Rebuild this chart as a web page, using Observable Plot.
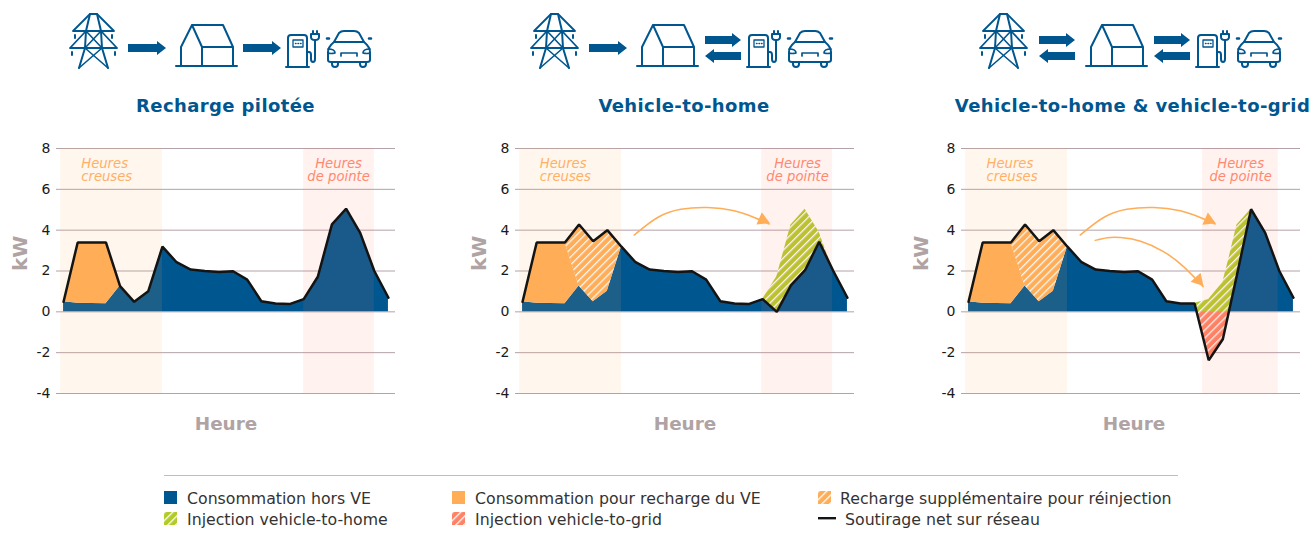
<!DOCTYPE html>
<html lang="fr">
<head>
<meta charset="utf-8">
<title>Recharge pilotée, vehicle-to-home, vehicle-to-grid</title>
<script src="https://cdn.jsdelivr.net/npm/d3@7"></script>
<script src="https://cdn.jsdelivr.net/npm/@observablehq/plot@0.6"></script>
<style>
html,body{margin:0;padding:0;background:#fff;}
#page{position:relative;width:1314px;height:533px;overflow:hidden;font-family:"DejaVu Sans",sans-serif;}
.panel{position:absolute;top:130px;}
.panel svg{display:block;}
.title{position:absolute;top:95px;font-weight:700;font-size:18px;letter-spacing:0.4px;line-height:22px;color:#00568f;white-space:nowrap;transform:translateX(-50%);}
#rule{position:absolute;left:164px;top:475px;width:1014px;height:1px;background:#c8b8bf;}
.lg{position:absolute;font-size:15.75px;line-height:20px;color:#333;white-space:nowrap;}
.sw{position:absolute;}
#icons{position:absolute;left:0;top:0;}
</style>
</head>
<body>
<div id="page">
<svg width="0" height="0" style="position:absolute">
  <defs>
    <pattern id="hatchOrange" patternUnits="userSpaceOnUse" width="5.6" height="5.6" patternTransform="rotate(45)">
      <rect width="5.6" height="5.6" fill="#ffad57"/><rect width="1.3" height="5.6" fill="#fff"/>
    </pattern>
    <pattern id="hatchGreen" patternUnits="userSpaceOnUse" width="5.6" height="5.6" patternTransform="rotate(45)">
      <rect width="5.6" height="5.6" fill="#b3cb2a"/><rect width="1.3" height="5.6" fill="#fff"/>
    </pattern>
    <pattern id="hatchRed" patternUnits="userSpaceOnUse" width="5.6" height="5.6" patternTransform="rotate(45)">
      <rect width="5.6" height="5.6" fill="#ff8266"/><rect width="1.3" height="5.6" fill="#fff"/>
    </pattern>
  </defs>
</svg>

<svg id="icons" width="1314" height="90" fill="none" stroke="#00568f" stroke-width="2" stroke-linejoin="round" stroke-linecap="round">
  <defs>
    <g id="pylon">
      <path d="M90 14H97M90 14L86 31L85 48L79 68M97 14L101 31L102 48L108 68"/>
      <path d="M73 31H114M70 48H117M90 14L73 31M97 14L114 31M86 31L70 48M101 31L117 48" stroke-width="1.8"/>
      <path d="M86 31L102 48M101 31L85 48M85 48L108 68M102 48L79 68" stroke-width="1.6"/>
      <path d="M75 35V38M112 35V38M72 52V55M115 52V55"/>
    </g>
    <g id="house">
      <path d="M176 66H237M181 66V47L192 25H223L233 47V66M192 25L202 47V66M202 47H233"/>
    </g>
    <g id="charger">
      <path d="M288 67V38Q288 35 291 35H304Q307 35 307 38V67M286 67H309"/>
      <path d="M293 40H303V47H293Z" stroke-width="1.3"/>
      <path d="M295.5 43.5H296M298 43.5H298.5M300.5 43.5H301" stroke-width="1.5"/>
      <path d="M307 52H309Q311 52 311 55V59Q311 62 313 62Q315 62 315 59V40"/>
      <path d="M311 34H319V37Q319 40 315 40Q311 40 311 37ZM313 34V31M317 34V31"/>
    </g>
    <g id="car">
      <path d="M334 42L339 33Q341 31 344 31H354Q357 31 359 33L364 42M334 42H364"/>
      <path d="M334 42Q328 47 328 52V60Q328 62 331 62H367Q370 62 370 60V52Q370 47 364 42"/>
      <path d="M332 62V64Q332 67 335 67Q338 67 338 64V62M360 62V64Q360 67 363 67Q366 67 366 64V62"/>
      <path d="M328 49Q335 49 335 53Q331 54 328 53M370 49Q363 49 363 53Q367 54 370 53M341 56V53H357V56" stroke-width="1.7"/>
      <path d="M327 38.5H329M369 38.5H371" stroke-width="2.6"/>
    </g>
    <path id="one" d="M0 44H29V41L38 48L29 55V52H0Z" fill="#00568f" stroke="none"/>
    <g id="two" fill="#00568f" stroke="none">
      <path d="M0 36H27V33L36 40L27 47V44H0Z"/>
      <path d="M36 52H9V49L0 56L9 63V60H36Z"/>
    </g>
  </defs>
  <g><use href="#pylon"/><use href="#house"/><use href="#charger"/><use href="#car"/>
     <use href="#one" x="128"/><use href="#one" x="243"/></g>
  <g transform="translate(461,0)"><use href="#pylon"/><use href="#house"/><use href="#charger"/><use href="#car"/></g>
  <use href="#one" x="589"/><use href="#two" x="705"/>
  <g transform="translate(910,0)"><use href="#pylon"/><use href="#house"/><use href="#charger"/><use href="#car"/></g>
  <use href="#two" x="1039"/><use href="#two" x="1154"/>
</svg>

<div id="rule"></div>
</div>

<script>
// --- Data (kW per hour) ---
const hours = [0,1,2,3,4,5,6,7,8,9,10,11,12,13,14,15,16,17,18,19,20,21,22,23];
const baseLoad = [0.49,0.42,0.41,0.40,1.26,0.49,1.01,3.19,2.43,2.07,2.00,1.95,1.99,1.58,0.52,0.41,0.38,0.62,1.72,4.28,5.05,3.87,2.00,0.69];
const netManaged = [0.49,3.40,3.40,3.40,1.26,0.49,1.01,3.19,2.43,2.07,2.00,1.95,1.99,1.58,0.52,0.41,0.38,0.62,1.72,4.28,5.05,3.87,2.00,0.69];
const netV2H = [0.49,3.40,3.40,3.40,4.28,3.46,4.00,3.19,2.43,2.07,2.00,1.95,1.99,1.58,0.52,0.41,0.38,0.62,0.00,1.30,2.04,3.43,2.00,0.69];
const blueV2H = [0.49,0.42,0.41,0.40,1.26,0.49,1.01,3.19,2.43,2.07,2.00,1.95,1.99,1.58,0.52,0.41,0.38,0.62,0.00,1.30,2.04,3.43,2.00,0.69];
const netV2G = [0.49,3.40,3.40,3.40,4.28,3.46,4.00,3.19,2.43,2.07,2.00,1.95,1.99,1.58,0.52,0.41,0.41,-2.37,-1.34,1.80,5.03,3.87,2.00,0.69];

const chargeHours = [0,1,2,3,4];
const chargeBase = [0.49,0.42,0.41,0.40,1.26];
const chargeTop = [0.49,3.40,3.40,3.40,1.26];

const extraHours = [3,4,5,6,7];
const extraBase = [3.40,1.26,0.49,1.01,3.19];
const extraTop = [3.40,4.28,3.46,4.00,3.19];

const v2hHours = [17,18,19,20,21,22];
const v2hLow = [0.62,0.00,1.30,2.04,3.43,2.00];
const v2hTop = [0.62,1.72,4.25,5.03,3.90,2.00];

// panel 3: vertices include where the net line crosses zero
const blueV2GHours = [0,1,2,3,4,5,6,7,8,9,10,11,12,13,14,15,16,16.15,18.43,19,20,21,22,23];
const blueV2G = [0.49,0.42,0.41,0.40,1.26,0.49,1.01,3.19,2.43,2.07,2.00,1.95,1.99,1.58,0.52,0.41,0.41,0,0,1.80,5.03,3.87,2.00,0.69];
const greenGHours = [16,16.15,17,18,18.43,19,20];
const greenGLow = [0.41,0,0,0,0,1.80,5.03];
const greenGTop = [0.41,0.44,0.60,1.44,2.60,4.25,5.03];
const redHours = [16.15,17,18,18.43];
const redLow = [0,-2.37,-1.34,0];

const gridTicks = [-4,-2,0,2,4,6,8];

const arrowAX = [7.9,9.56,11.2,13.1,14.98,16.4,17.46];
const arrowAY = [3.76,4.62,5.02,5.11,4.95,4.62,4.3];
const arrowBX = [8.97,9.82,10.76,12.18,13.83,15.24,16.61];
const arrowBY = [3.5,3.63,3.64,3.46,2.94,2.2,1.23];

const legendLabels = ["Consommation hors VE","Consommation pour recharge du VE","Recharge supplémentaire pour réinjection",
                      "Injection vehicle-to-home","Injection vehicle-to-grid","Soutirage net sur réseau"];
const legendFills = ["#00568f","#ffad57","url(#hatchOrange)","url(#hatchGreen)","url(#hatchRed)",null];

const BLUE = "#00568f", ORANGE = "#ffad57", RED = "#ff8266";
const FONT = "DejaVu Sans";

function panel({left, net, blueX, blueY, extra, peak, pointeX, creusesX, kwDx, heureDx, layers, arrows}) {
  const marks = [
    Plot.ruleY(gridTicks, {stroke:"#b3a2ab", strokeWidth:1}),
    Plot.areaY(blueX, {x:blueX, y1:0, y2:blueY, fill:BLUE}),
    Plot.areaY(chargeHours, {x:chargeHours, y1:chargeBase, y2:chargeTop, fill:ORANGE}),
    ...(extra ? [Plot.areaY(extraHours, {x:extraHours, y1:extraBase, y2:extraTop, fill:"url(#hatchOrange)"})] : []),
    ...layers,
    Plot.rect([0], {x1:[-0.2], x2:[7], y1:[-4], y2:[8], fill:ORANGE, fillOpacity:0.11}),
    Plot.rect([0], {x1:[peak[0]], x2:[peak[1]], y1:[-4], y2:[8], fill:RED, fillOpacity:0.1}),
    Plot.line(hours, {x:hours, y:net, stroke:"#141414", strokeWidth:2.5, strokeLinejoin:"miter"}),
    Plot.text(["Heures\ncreuses"], {x:[creusesX], y:[6.95], textAnchor:"start", fill:"#ffb066", fontSize:13.2, fontStyle:"italic", lineHeight:1.0, fontFamily:FONT}),
    Plot.text(["Heures\nde pointe"], {x:[pointeX], y:[6.95], textAnchor:"middle", fill:"#ff8870", fontSize:13.2, fontStyle:"italic", lineHeight:1.0, fontFamily:FONT}),
    ...arrows,
    Plot.axisY({ticks:gridTicks, tickSize:0, tickPadding:6, tickFormat:d=>String(d), label:null, fontSize:14, fill:"#1a1a1a", fontFamily:FONT}),
    Plot.text(["kW"], {frameAnchor:"left", dx:kwDx, rotate:-90, fill:"#b0a3a3", fontWeight:700, fontSize:20, fontFamily:FONT}),
    Plot.text(["Heure"], {frameAnchor:"bottom", lineAnchor:"middle", dy:31, dx:heureDx, fill:"#b0a3a3", fontWeight:700, fontSize:18.4, fontFamily:FONT})
  ];
  const chart = Plot.plot({
    width:409, height:310, marginLeft:56, marginRight:14, marginTop:18, marginBottom:47,
    x:{domain:[-0.5,23.5], axis:null},
    y:{domain:[-4,8]},
    style:{background:"transparent", overflow:"visible"},
    marks
  });
  const wrap = document.createElement("div");
  wrap.className = "panel";
  wrap.style.left = left + "px";
  wrap.appendChild(chart);
  document.getElementById("page").appendChild(wrap);
}

function arrowMarks(xs, ys, headX, headY, rotate) {
  return [
    Plot.line(xs, {x:xs, y:ys, curve:"natural", stroke:ORANGE, strokeWidth:1.5}),
    Plot.dot([0], {x:[headX], y:[headY], r:5, symbol:"triangle", rotate:rotate, fill:ORANGE, stroke:"none"})
  ];
}

panel({left:0, net:netManaged, blueX:hours, blueY:baseLoad, extra:false, peak:[17,22], pointeX:19.47, creusesX:1.25, kwDx:-36, heureDx:0, layers:[], arrows:[]});

panel({left:459, net:netV2H, blueX:hours, blueY:blueV2H, extra:true, peak:[16.94,21.95], pointeX:19.47, creusesX:1.22, kwDx:-36, heureDx:0,
  layers:[Plot.areaY(v2hHours, {x:v2hHours, y1:v2hLow, y2:v2hTop, fill:"url(#hatchGreen)"})],
  arrows:arrowMarks(arrowAX, arrowAY, 17.0, 4.5, 114)});

panel({left:905, net:netV2G, blueX:blueV2GHours, blueY:blueV2G, extra:true, peak:[16.56,21.92], pointeX:19.26, creusesX:1.27, kwDx:-40, heureDx:3,
  layers:[
    Plot.areaY(greenGHours, {x:greenGHours, y1:greenGLow, y2:greenGTop, fill:"url(#hatchGreen)"}),
    Plot.areaY(redHours, {x:redHours, y1:0, y2:redLow, fill:"url(#hatchRed)"})
  ],
  arrows:[...arrowMarks(arrowAX, arrowAY, 17.0, 4.49, 114), ...arrowMarks(arrowBX, arrowBY, 16.26, 1.55, 138)]});

// Titles
const page = document.getElementById("page");
[["Recharge pilotée",225.5],["Vehicle-to-home",684],["Vehicle-to-home & vehicle-to-grid",1132.5]].forEach(([t,c])=>{
  const d = document.createElement("div");
  d.className = "title"; d.textContent = t; d.style.left = c + "px";
  page.appendChild(d);
});

// Legend
const swX = [164,452,818], txtX = [187,475,840], rowY = [498,519];
legendLabels.forEach((label,i)=>{
  const col = i%3, row = Math.floor(i/3);
  const s = document.createElementNS("http://www.w3.org/2000/svg","svg");
  s.setAttribute("class","sw"); s.setAttribute("width",18); s.setAttribute("height",13);
  s.style.left = swX[col]+"px"; s.style.top = (rowY[row]-7)+"px";
  if (legendFills[i]) {
    const r = document.createElementNS("http://www.w3.org/2000/svg","rect");
    r.setAttribute("width",13); r.setAttribute("height",13); r.setAttribute("fill",legendFills[i]);
    s.appendChild(r);
  } else {
    const r = document.createElementNS("http://www.w3.org/2000/svg","rect");
    r.setAttribute("y",5); r.setAttribute("width",18); r.setAttribute("height",2.4); r.setAttribute("fill","#141414");
    s.appendChild(r);
  }
  page.appendChild(s);
  const d = document.createElement("div");
  d.className = "lg"; d.textContent = label;
  d.style.left = (legendFills[i] ? txtX[col] : 845)+"px";
  d.style.top = (rowY[row]-9)+"px";
  page.appendChild(d);
});
</script>
</body>
</html>
